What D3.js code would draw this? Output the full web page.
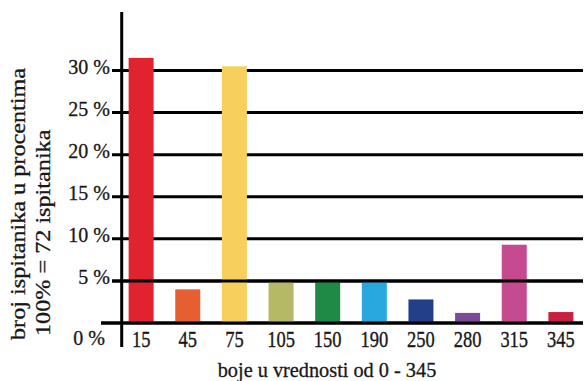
<!DOCTYPE html>
<html>
<head>
<meta charset="utf-8">
<script src="https://cdn.jsdelivr.net/npm/d3@7"></script>
<style>
  html, body { margin: 0; padding: 0; background: #fff; }
  svg { display: block; }
</style>
</head>
<body>
<svg id="chart" width="584" height="381"></svg>
<script>
// Hue values (0 - 345) and the share of respondents for each, in percent
const categories = ["15", "45", "75", "105", "150", "190", "250", "280", "315", "345"];
const percentages = [31.5, 4.0, 30.5, 5.0, 5.0, 5.0, 2.8, 1.2, 9.3, 1.3];
const barColors = ["#e0232e", "#e55f30", "#f6cf5c", "#b5b966", "#1e8a45",
                   "#29a8e0", "#233f8a", "#7b4a98", "#c54a90", "#c8213f"];
const yTicks = [0, 5, 10, 15, 20, 25, 30];
const yTickLabels = ["0 %", "5 %", "10 %", "15 %", "20 %", "25 %", "30 %"];
const xTitle = "boje u vrednosti od 0 - 345";
const yTitleLines = ["broj ispitanika u procentima", "100% = 72 ispitanika"];

const FONT = "'Liberation Serif', Tinos, 'Times New Roman', Times, serif";
const INK = "#1a1718";

const svg = d3.select("#chart");

const x = d3.scaleBand()
  .domain(categories)
  .range([122, 580])
  .paddingInner(0.464)
  .paddingOuter(0.142);

const y = d3.scaleLinear()
  .domain([0, 30])
  .range([323, 70.5]);

const axisX = 121.7;
const gridRight = 583;

function styleText(sel, size) {
  return sel.attr("font-family", FONT)
    .attr("font-size", size)
    .attr("fill", INK)
    .attr("stroke", INK)
    .attr("stroke-width", 0.3);
}

// horizontal grid lines with short stubs left of the axis
svg.append("g")
  .selectAll("line")
  .data(yTicks)
  .join("line")
  .attr("x1", d => d === 0 ? 101 : 112)
  .attr("x2", gridRight)
  .attr("y1", d => y(d))
  .attr("y2", d => y(d))
  .attr("stroke", "#000")
  .attr("stroke-width", 3);

// bars
svg.append("g")
  .selectAll("rect")
  .data(percentages)
  .join("rect")
  .attr("x", (d, i) => x(categories[i]))
  .attr("width", x.bandwidth())
  .attr("y", d => y(d))
  .attr("height", d => y(0) - y(d))
  .attr("fill", (d, i) => barColors[i]);

// the 5 % line and the base line run over the bars
svg.append("g")
  .selectAll("line")
  .data([0, 5])
  .join("line")
  .attr("x1", d => d === 0 ? 101 : 112)
  .attr("x2", gridRight)
  .attr("y1", d => y(d))
  .attr("y2", d => y(d))
  .attr("stroke", "#000")
  .attr("stroke-width", 3);

// vertical axis line
svg.append("line")
  .attr("x1", axisX).attr("x2", axisX)
  .attr("y1", 12).attr("y2", 347)
  .attr("stroke", "#000")
  .attr("stroke-width", 3);

// y tick labels
styleText(svg.append("g")
  .selectAll("text")
  .data(yTicks)
  .join("text")
  .attr("x", d => d === 0 ? 105 : 110)
  .attr("y", d => y(d) + (d === 0 ? 22 : 3))
  .attr("text-anchor", "end"), 20)
  .text((d, i) => yTickLabels[i]);

// x tick labels (tall, narrow figures)
styleText(svg.append("g")
  .selectAll("text")
  .data(categories)
  .join("text")
  .attr("transform", d => `translate(${x(d) + x.bandwidth() / 2},347) scale(1,1.2)`)
  .attr("text-anchor", "middle"), 18.5)
  .text(d => d);

// x axis title
styleText(svg.append("text")
  .attr("transform", "translate(327,376.5) scale(1,1.08)")
  .attr("text-anchor", "middle"), 20.3)
  .text(xTitle);

// y axis title, two rotated lines
const yTitleBase = [[25.4, 340], [49.5, 336]];
yTitleLines.forEach((line, i) => {
  styleText(svg.append("text")
    .attr("transform", `translate(${yTitleBase[i][0]},${yTitleBase[i][1]}) rotate(-90) scale(1.21,1)`)
    .attr("text-anchor", "start"), 20)
    .text(line);
});
</script>
</body>
</html>
